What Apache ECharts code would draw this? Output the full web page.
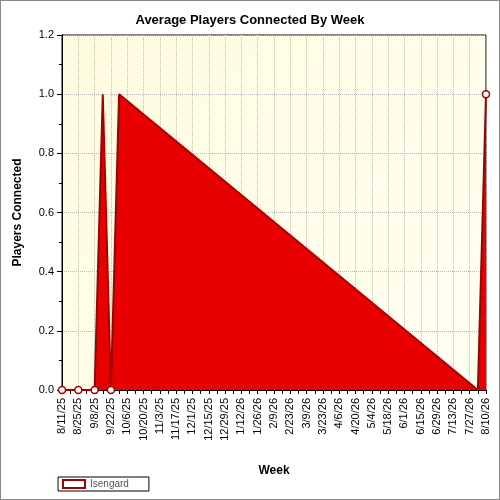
<!DOCTYPE html><html><head><meta charset="utf-8"><script src="https://cdn.jsdelivr.net/npm/echarts@6/dist/echarts.min.js"></script>
<style>body{margin:0}#c{width:500px;height:500px;background:#fff;border:1px solid #888;box-sizing:border-box}</style></head><body><div id="c"></div><script>
const startDate = new Date(2025,7,11);
const categories = [];
for(let i=0;i<53;i++){const d=new Date(startDate.getTime()+i*7*86400000);categories.push((d.getMonth()+1)+'/'+d.getDate()+'/'+String(d.getFullYear()).slice(2));}
const values = [0,0,0,0,0,1,0,1].concat(new Array(43).fill(null)).concat([0,1]);
const chart = echarts.init(document.getElementById('c'));
chart.setOption({
 animation:false,
 title:{text:'Average Players Connected By Week',left:'center',top:8,textStyle:{fontSize:13,fontWeight:'bold',color:'#000',fontFamily:'Arial'}},
 grid:{left:61,right:13,top:34,bottom:109,backgroundColor:new echarts.graphic.LinearGradient(0,0,1,1,[{offset:0,color:'#fffbe0'},{offset:1,color:'#fffff2'}]),show:true,borderColor:'#000',borderWidth:1},
 legend:{left:57,bottom:8,itemWidth:22,itemHeight:8,data:['Isengard'],textStyle:{fontSize:10,fontFamily:'Arial'},borderColor:'#000',borderWidth:1,padding:[2,20,2,4],borderRadius:0,icon:'rect'},
 xAxis:{type:'category',data:categories,boundaryGap:false,name:'Week',nameLocation:'middle',nameGap:75,nameTextStyle:{fontWeight:'bold',fontSize:12,fontFamily:'Arial'},
  axisLine:{lineStyle:{color:'#000'}},axisTick:{interval:0,inside:false,length:4,lineStyle:{color:'#000'}},
  axisLabel:{interval:1,rotate:90,fontSize:11,color:'#000',fontFamily:'Arial'},
  splitLine:{show:true,interval:1,lineStyle:{type:'dotted',color:'#bbb'}}},
 yAxis:{type:'value',min:0,max:1.2,interval:0.2,name:'Players Connected',nameLocation:'middle',nameGap:38,nameTextStyle:{fontWeight:'bold',fontSize:12,fontFamily:'Arial'},
  axisLine:{show:true,lineStyle:{color:'#000'}},axisTick:{show:true,lineStyle:{color:'#000'}},minorTick:{show:true,splitNumber:2,lineStyle:{color:'#000'}},
  axisLabel:{formatter:v=>v.toFixed(1),fontSize:11,color:'#000',fontFamily:'Arial'},
  splitLine:{lineStyle:{type:'dotted',color:'#bbb'}}},
 series:[{name:'Isengard',type:'line',data:values,connectNulls:true,symbol:'circle',symbolSize:7,
  itemStyle:{color:'#fff',borderColor:'#a00000',borderWidth:1.5},
  lineStyle:{color:'#a00000',width:2},areaStyle:{color:'#e80000',opacity:1}}]
});
</script></body></html>
